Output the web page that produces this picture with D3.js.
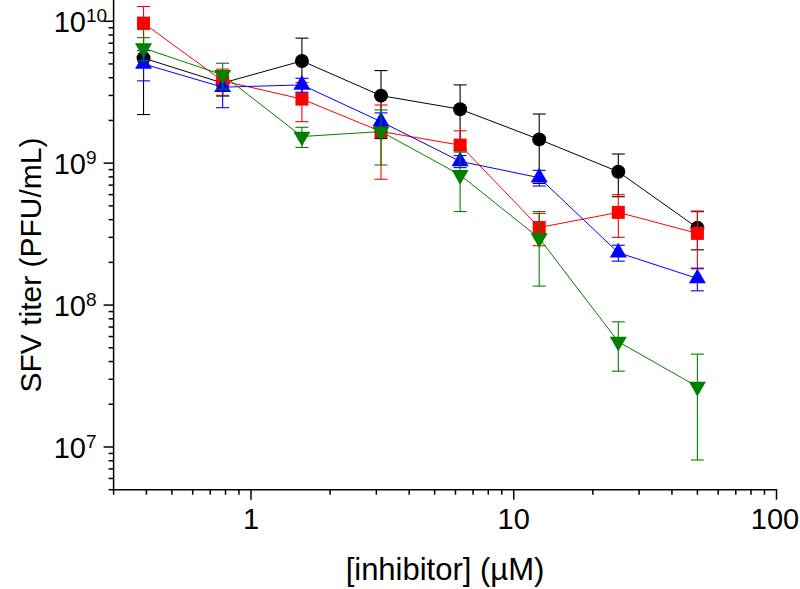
<!DOCTYPE html>
<html>
<head>
<meta charset="utf-8">
<script src="https://cdn.jsdelivr.net/npm/d3@7"></script>
<style>
  html, body { margin: 0; padding: 0; background: #fff; }
  svg { display: block; font-family: "Liberation Sans", Arial, sans-serif; }
</style>
</head>
<body>
<svg id="chart" width="800" height="589"></svg>
<script>
// ---- data ----
const conc = [0.39, 0.78, 1.5625, 3.125, 6.25, 12.5, 25, 50];
const blackMean = [5.5e9, 3.67e9, 5.25e9, 2.99e9, 2.40e9, 1.47e9, 8.7e8, 3.5e8];
const blackSD   = [3.3e9, 0.7e9, 2.35e9, 1.5e9, 1.16e9, 0.75e9, 2.9e8, 1.05e8];
const redMean   = [9.7e9, 3.8e9, 2.83e9, 1.67e9, 1.34e9, 3.52e8, 4.5e8, 3.2e8];
const redSD     = [3.0e9, 0.8e9, 0.87e9, 0.9e9, 0.35e9, 0.9e8, 1.5e8, 1.4e8];
const blueMean  = [5.0e9, 3.43e9, 3.56e9, 1.96e9, 1.03e9, 7.9e8, 2.34e8, 1.54e8];
const blueSD    = [1.2e9, 0.97e9, 0.4e9, 0.3e9, 0.1e9, 0.1e9, 0.3e8, 0.28e8];
const greenMean = [6.46e9, 4.19e9, 1.54e9, 1.67e9, 8.26e8, 2.96e8, 5.52e7, 2.66e7];
const greenSD   = [1.2e9, 0.87e9, 0.25e9, 0.7e9, 3.7e8, 1.6e8, 2.1e7, 1.85e7];

const xMajorTicks = [1, 10, 100];
const xTickLabels = ["1", "10", "100"];
const yMajorTicks = [1e7, 1e8, 1e9, 1e10];
const yTickExponents = ["7", "8", "9", "10"];
const xTitle = "[inhibitor] (\u00B5M)";
const yTitle = "SFV titer (PFU/mL)";

// ---- setup ----
const svg = d3.select("#chart");
const x = d3.scaleLog().domain([0.3, 100]).range([113.6, 776.5]);
const y = d3.scaleLog().domain([5e6, 1.4e10]).range([489.7, 0.5]);

const series = [
  { mean: blackMean, sd: blackSD, color: "#000000", shape: "circle" },
  { mean: redMean, sd: redSD, color: "#ff0000", shape: "square" },
  { mean: blueMean, sd: blueSD, color: "#0000ff", shape: "up" },
  { mean: greenMean, sd: greenSD, color: "#008000", shape: "down" }
];

// ---- axes ----
const axisG = svg.append("g");
const xMinor = [];
[0.1, 1, 10].forEach(d => { for (let k = 2; k <= 9; k++) { const v = d * k; if (v >= 0.3 && v < 100) xMinor.push(v); } });
const yMinor = [];
[1e6, 1e7, 1e8, 1e9].forEach(d => { for (let k = 2; k <= 9; k++) { const v = d * k; if (v >= 5e6 && v <= 1.4e10) yMinor.push(v); } });

const y0 = y.range()[0];
const x0 = x.range()[0];

axisG.append("line").attr("x1", x0 - 0.75).attr("x2", x.range()[1] + 0.5)
  .attr("y1", y0).attr("y2", y0).attr("stroke", "#000").attr("stroke-width", 1.5);
axisG.append("line").attr("x1", x0).attr("x2", x0)
  .attr("y1", 0).attr("y2", y0 + 0.75).attr("stroke", "#000").attr("stroke-width", 1.5);

axisG.selectAll(".xmaj").data(xMajorTicks).enter().append("line")
  .attr("x1", d => x(d)).attr("x2", d => x(d)).attr("y1", y0).attr("y2", y0 + 10)
  .attr("stroke", "#000").attr("stroke-width", 1.5);
axisG.selectAll(".xmin").data(xMinor).enter().append("line")
  .attr("x1", d => x(d)).attr("x2", d => x(d)).attr("y1", y0).attr("y2", y0 + 5)
  .attr("stroke", "#000").attr("stroke-width", 1.5);
axisG.selectAll(".ymaj").data(yMajorTicks).enter().append("line")
  .attr("x1", x0 - 10).attr("x2", x0).attr("y1", d => y(d)).attr("y2", d => y(d))
  .attr("stroke", "#000").attr("stroke-width", 1.5);
axisG.selectAll(".ymin").data(yMinor).enter().append("line")
  .attr("x1", x0 - 5).attr("x2", x0).attr("y1", d => y(d)).attr("y2", d => y(d))
  .attr("stroke", "#000").attr("stroke-width", 1.5);

// x tick labels (keep last label inside the 800px canvas)
axisG.selectAll(".xl").data(xMajorTicks).enter().append("text")
  .attr("x", d => Math.min(x(d), 775)).attr("y", 529).attr("text-anchor", "middle")
  .attr("font-size", 29).attr("fill", "#000")
  .text((d, i) => xTickLabels[i]);

// y tick labels: base "10" + superscript exponent
yMajorTicks.forEach((d, i) => {
  axisG.append("text").attr("x", 86).attr("y", y(d) + 11)
    .attr("font-size", 29).attr("fill", "#000").attr("text-anchor", "end")
    .text("10");
  axisG.append("text").attr("x", 86).attr("y", y(d) + 1)
    .attr("font-size", 19).attr("fill", "#000").attr("text-anchor", "start")
    .text(yTickExponents[i]);
});

// titles
svg.append("text").attr("x", 445).attr("y", 580).attr("text-anchor", "middle")
  .attr("font-size", 31).attr("fill", "#000").text(xTitle);
svg.append("text").attr("transform", "translate(41,265) rotate(-90)")
  .attr("text-anchor", "middle").attr("font-size", 30).attr("fill", "#000").text(yTitle);

// ---- data series ----
const line = d3.line().x(d => x(d.c)).y(d => y(d.m));
const triSize = 125;

series.forEach(s => {
  const pts = conc.map((c, i) => ({ c, m: s.mean[i], sd: s.sd[i] }));
  const g = svg.append("g");
  g.append("path").datum(pts).attr("d", line).attr("fill", "none")
    .attr("stroke", s.color).attr("stroke-width", 1);
  // error bars
  const eb = g.selectAll(".eb").data(pts).enter().append("g");
  eb.append("line").attr("x1", d => x(d.c)).attr("x2", d => x(d.c))
    .attr("y1", d => y(d.m + d.sd)).attr("y2", d => y(Math.max(d.m - d.sd, 5e6)))
    .attr("stroke", s.color).attr("stroke-width", 1.1);
  eb.append("line").attr("x1", d => x(d.c) - 6.5).attr("x2", d => x(d.c) + 6.5)
    .attr("y1", d => y(d.m + d.sd)).attr("y2", d => y(d.m + d.sd))
    .attr("stroke", s.color).attr("stroke-width", 1.1);
  eb.filter(d => d.m - d.sd > 5e6).append("line").attr("x1", d => x(d.c) - 6.5).attr("x2", d => x(d.c) + 6.5)
    .attr("y1", d => y(d.m - d.sd)).attr("y2", d => y(d.m - d.sd))
    .attr("stroke", s.color).attr("stroke-width", 1.1);
  // markers
  const mk = g.selectAll(".mk").data(pts).enter();
  if (s.shape === "circle") {
    mk.append("circle").attr("cx", d => x(d.c)).attr("cy", d => y(d.m)).attr("r", 7).attr("fill", s.color);
  } else if (s.shape === "square") {
    mk.append("rect").attr("x", d => x(d.c) - 6.5).attr("y", d => y(d.m) - 6.5)
      .attr("width", 13).attr("height", 13).attr("fill", s.color);
  } else {
    const sym = d3.symbol().type(d3.symbolTriangle).size(triSize);
    mk.append("path").attr("d", sym)
      .attr("transform", d => `translate(${x(d.c)},${y(d.m)})` + (s.shape === "down" ? " rotate(180)" : ""))
      .attr("fill", s.color);
  }
});
</script>
</body>
</html>
